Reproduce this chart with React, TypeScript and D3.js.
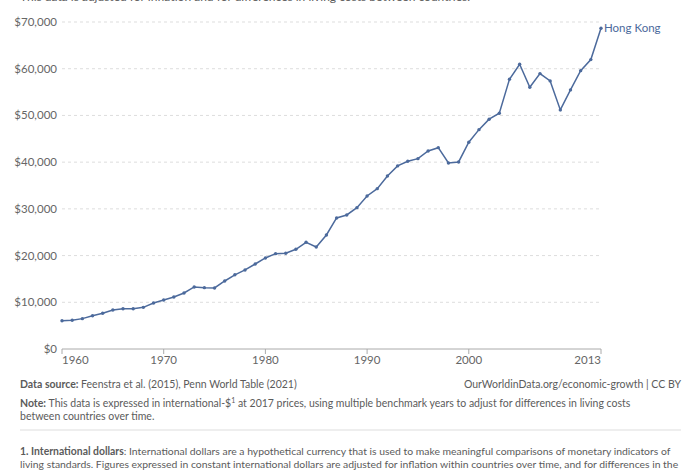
import React from "react";
import * as d3 from "d3";

const years: number[] = [
  1960, 1961, 1962, 1963, 1964, 1965, 1966, 1967, 1968, 1969,
  1970, 1971, 1972, 1973, 1974, 1975, 1976, 1977, 1978, 1979,
  1980, 1981, 1982, 1983, 1984, 1985, 1986, 1987, 1988, 1989,
  1990, 1991, 1992, 1993, 1994, 1995, 1996, 1997, 1998, 1999,
  2000, 2001, 2002, 2003, 2004, 2005, 2006, 2007, 2008, 2009,
  2010, 2011, 2012, 2013,
];
const gdpPerCapita: number[] = [
  6060, 6140, 6500, 7130, 7640, 8350, 8630, 8630, 8920, 9850,
  10490, 11130, 11990, 13280, 13130, 13060, 14560, 15880, 16920, 18200,
  19490, 20410, 20490, 21350, 22850, 21840, 24410, 28050, 28690, 30260,
  32760, 34330, 37040, 39200, 40190, 40750, 42400, 43100, 39830, 40040,
  44260, 46960, 49190, 50470, 57750, 60960, 56040, 58950, 57390, 51180,
  55460, 59590, 61950, 68670,
];
const seriesName = "Hong Kong";
const yTicks: number[] = [0, 10000, 20000, 30000, 40000, 50000, 60000, 70000];
const xTicks: number[] = [1960, 1970, 1980, 1990, 2000, 2013];

const subtitle =
  "This data is adjusted for inflation and for differences in living costs between countries.";

const FONT = "Lato, 'Noto Sans', sans-serif";
const LINE = "#4c6a9c";
const TEXT = "#5b5b5b";

export default function App() {
  const x = d3.scaleLinear().domain([1960, 2013]).range([62, 601]);
  const y = d3.scaleLinear().domain([0, 70000]).range([349, 22]);
  const data = years.map((yr, i) => ({ yr, v: gdpPerCapita[i] }));
  const line = d3
    .line<{ yr: number; v: number }>()
    .x((d) => x(d.yr))
    .y((d) => y(d.v));
  const last = data[data.length - 1];
  const fmt = (v: number) => "$" + d3.format(",")(v);

  return (
    <svg
      width={692}
      height={470}
      style={{ position: "fixed", left: 0, top: 0, background: "#fff" }}
      fontFamily={FONT}
    >
      <text x={20} y={1} fontSize={12} fill={TEXT}>
        {subtitle}
      </text>
      {yTicks.map((t) => (
        <g key={t}>
          {t > 0 && (
            <line
              x1={62}
              x2={601}
              y1={y(t)}
              y2={y(t)}
              stroke="#dddddd"
              strokeDasharray="3,3"
            />
          )}
          <text
            x={57}
            y={y(t)}
            dy="0.35em"
            textAnchor="end"
            fontSize={11.5}
            fill="#666"
          >
            {fmt(t)}
          </text>
        </g>
      ))}
      <line x1={62} x2={601} y1={349} y2={349} stroke="#aaa" />
      {xTicks.map((t, i) => (
        <g key={t}>
          <line x1={x(t)} x2={x(t)} y1={349} y2={354} stroke="#aaa" />
          <text
            x={x(t)}
            y={364}
            textAnchor={i === 0 ? "start" : i === xTicks.length - 1 ? "end" : "middle"}
            fontSize={11.5}
            fill="#666"
          >
            {t}
          </text>
        </g>
      ))}
      <path d={line(data) || ""} fill="none" stroke={LINE} strokeWidth={1.5} />
      {data.map((d) => (
        <circle key={d.yr} cx={x(d.yr)} cy={y(d.v)} r={1.7} fill={LINE} />
      ))}
      <text x={x(last.yr) + 3} y={y(last.v)} dy="0.35em" fontSize={11.5} fill={LINE}>
        {seriesName}
      </text>

      <g fontSize={10.5} fill={TEXT}>
        <text x={20} y={388}>
          <tspan fontWeight="bold">Data source: </tspan>
          Feenstra et al. (2015), Penn World Table (2021)
        </text>
        <text x={681} y={388} textAnchor="end">
          OurWorldinData.org/economic-growth | CC BY
        </text>
        <text x={20} y={407}>
          <tspan fontWeight="bold">Note: </tspan>
          This data is expressed in international-$
          <tspan fontSize={7} dy={-4}>1</tspan>
          <tspan dy={4}> at 2017 prices, using multiple benchmark years to adjust for differences in living costs</tspan>
        </text>
        <text x={20} y={420}>
          between countries over time.
        </text>
        <line x1={20} x2={681} y1={430} y2={430} stroke="#ddd" />
        <text x={20} y={455} fontSize={10.4}>
          <tspan fontWeight="bold">1. International dollars</tspan>
          : International dollars are a hypothetical currency that is used to make meaningful comparisons of monetary indicators of
        </text>
        <text x={20} y={468} fontSize={10.4}>
          living standards. Figures expressed in constant international dollars are adjusted for inflation within countries over time, and for differences in the
        </text>
      </g>
    </svg>
  );
}
